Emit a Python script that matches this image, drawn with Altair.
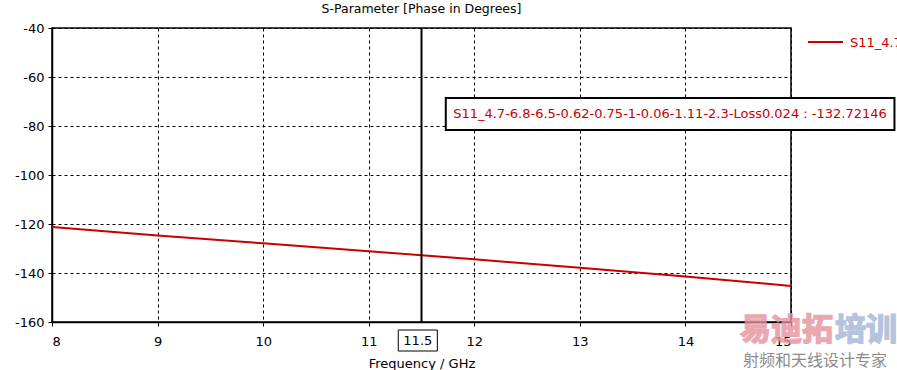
import altair as alt
import pandas as pd

# ---- data ----
freq = [8, 9, 10, 11, 11.5, 12, 13, 14, 15]
phase = [-121.2, -124.7, -127.9, -131.1, -132.72, -134.4, -137.9, -141.4, -145.3]
series_name = "S11_4.7-6.8-6.5-0.62-0.75-1-0.06-1.11-2.3-Loss0.024"
marker_x = 11.5
marker_value = -132.72146
x_ticks = [8, 9, 10, 11, 12, 13, 14, 15]
y_ticks = [-160, -140, -120, -100, -80, -60, -40]

FONT = "DejaVu Sans"
RED = "#c80000"

df = pd.DataFrame({"f": freq, "p": phase, "s": series_name})

xs = alt.Scale(domain=[8, 15], nice=False, zero=False)
ys = alt.Scale(domain=[-160, -40], nice=False, zero=False)

base = alt.Chart(df)

line = base.mark_line(color=RED, strokeWidth=2, clip=True).encode(
    x=alt.X("f:Q", scale=xs, axis=alt.Axis(values=x_ticks, title="Frequency / GHz",
                                              labelExpr="toString(datum.value)",
                                              grid=True, gridDash=[3, 3], gridColor="black",
                                              gridOpacity=1, labelFontSize=13, titleFontSize=13,
                                              titleFontWeight="normal", titlePadding=9,
                                              labelPadding=9)),
    y=alt.Y("p:Q", scale=ys, axis=alt.Axis(values=y_ticks, title=None, grid=True,
                                              labelExpr="toString(datum.value)",
                                              gridDash=[3, 3], gridColor="black", gridOpacity=1,
                                              labelFontSize=13, labelPadding=4)),
)

mk = pd.DataFrame({"f": [marker_x], "lo": [-160], "hi": [-40],
                   "lbl": [f"{marker_x}"]})
mbase = alt.Chart(mk)

marker = mbase.mark_rule(color="black", strokeWidth=2).encode(
    x=alt.X("f:Q", scale=xs), y=alt.Y("lo:Q", scale=ys), y2="hi:Q")

# annotation box (data units)
ann_box_df = pd.DataFrame({"x1": [11.73], "x2": [15.98], "y1": [-68.6], "y2": [-81.6]})
ann_box = alt.Chart(ann_box_df).mark_rect(fill="white", stroke="black", strokeWidth=2, clip=False).encode(
    x=alt.X("x1:Q", scale=xs), x2="x2:Q", y=alt.Y("y1:Q", scale=ys), y2="y2:Q")

ann_df = pd.DataFrame({"x": [11.8], "y": [-75.1], "t": [f"{series_name} : {marker_value}"]})
ann_text = alt.Chart(ann_df).mark_text(align="left", baseline="middle", color=RED,
                                        font=FONT, fontSize=13, clip=False).encode(
    x=alt.X("x:Q", scale=xs), y=alt.Y("y:Q", scale=ys), text="t:N")

# marker label box on x axis
mlbox = alt.Chart(mk).transform_calculate(a="datum.f - 0.22", b="datum.f + 0.15").mark_rect(
    fill="white", stroke="black", strokeWidth=1, clip=False).encode(
    x=alt.X("a:Q", scale=xs), x2="b:Q", y=alt.value(302), y2=alt.value(323))
mltext = alt.Chart(mk).transform_calculate(c="datum.f - 0.035").mark_text(
    font=FONT, fontSize=13, color="black", baseline="middle", clip=False).encode(
    x=alt.X("c:Q", scale=xs), y=alt.value(313), text="lbl:N")

# legend
leg = pd.DataFrame({"t": [series_name]})
leg_line = alt.Chart(leg).mark_rule(color=RED, strokeWidth=2).encode(
    x=alt.value(756), x2=alt.value(791), y=alt.value(14))
leg_text = alt.Chart(leg).mark_text(align="left", baseline="middle", color=RED,
                                    font=FONT, fontSize=13).encode(
    x=alt.value(798), y=alt.value(15), text="t:N")

# watermark
wm1 = pd.DataFrame({"t": ["易迪拓"]})
wm2 = pd.DataFrame({"t": ["培训"]})
wm3 = pd.DataFrame({"t": ["射频和天线设计专家"]})
w1 = alt.Chart(wm1).mark_text(align="left", baseline="middle", font="Noto Sans CJK SC",
                              fontWeight="bold", fontSize=31, color="#e5929d", stroke="#e5929d",
                              strokeWidth=1.5, opacity=0.8).encode(
    x=alt.value(688), y=alt.value(303), text="t:N")
w2 = alt.Chart(wm2).mark_text(align="left", baseline="middle", font="Noto Sans CJK SC",
                              fontWeight="bold", fontSize=31, color="#a3b6d6", stroke="#a3b6d6",
                              strokeWidth=1.5, opacity=0.8).encode(
    x=alt.value(783), y=alt.value(303), text="t:N")
w3 = alt.Chart(wm3).mark_text(align="left", baseline="middle", font="Noto Sans CJK SC",
                              fontSize=16, color="#8c8c8c").encode(
    x=alt.value(691), y=alt.value(333), text="t:N")

chart = alt.layer(line, marker, ann_box, ann_text, mlbox, mltext, leg_line, leg_text, w1, w2, w3).properties(
    width=739, height=294,
    autosize=alt.AutoSizeParams(type="none"),
    padding={"left": 52, "top": 28, "right": 106, "bottom": 48},
    title=alt.TitleParams("S-Parameter [Phase in Degrees]", font=FONT, fontSize=12.5,
                          fontWeight="normal", color="black", offset=7, anchor="middle"),
    background="white",
).configure_view(stroke="black", strokeWidth=1.5).configure_axis(
    domainColor="black", domainWidth=1.5, tickColor="black", tickSize=4,
    labelColor="black", titleColor="black", labelFont=FONT, titleFont=FONT,
)

chart.save("out.html", embed_options={"renderer": "svg", "actions": False})
